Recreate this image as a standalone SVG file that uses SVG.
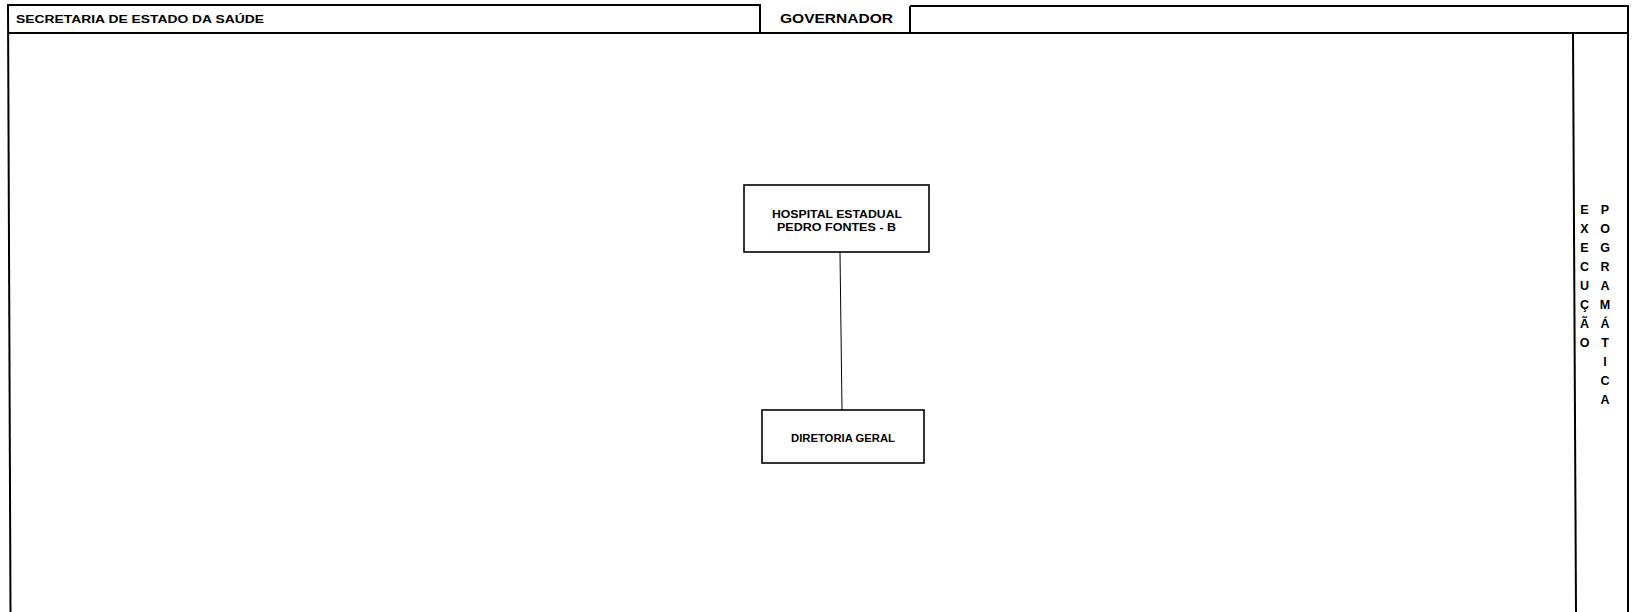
<svg xmlns="http://www.w3.org/2000/svg" width="1639" height="612" viewBox="0 0 1639 612">
<style>
.frame{stroke:#000;stroke-width:2;fill:none}
.box{stroke:#000;stroke-width:1.6;fill:#fff}
.conn{stroke:#000;stroke-width:1;fill:none}
text{font-family:"Liberation Sans",Arial,sans-serif;font-weight:bold;fill:#000}
.vt{font-size:12.5px;text-anchor:middle}
</style>
<rect width="1639" height="612" fill="#fff"/>
<g id="frame">
<line class="frame" x1="8" y1="5" x2="761" y2="5"/>
<line class="frame" x1="910" y1="6" x2="1629" y2="6"/>
<line class="frame" x1="8" y1="4" x2="10.5" y2="612" stroke-width="2.5"/>
<line class="frame" x1="760" y1="5" x2="760" y2="33"/>
<line class="frame" x1="910" y1="6" x2="910" y2="33"/>
<line class="frame" x1="8" y1="33" x2="1628" y2="33"/>
<line class="frame" x1="1573" y1="33" x2="1576" y2="612"/>
<line class="frame" x1="1628" y1="5" x2="1628" y2="612"/>
</g>
<g id="header-secretaria"><text x="16" y="22.5" font-size="11" textLength="248" lengthAdjust="spacingAndGlyphs">SECRETARIA DE ESTADO DA SAÚDE</text></g>
<g id="header-governador"><text x="780" y="22.5" font-size="12.5" textLength="113" lengthAdjust="spacingAndGlyphs">GOVERNADOR</text></g>
<g id="connectors">
<line class="conn" x1="840" y1="252" x2="842" y2="410"/>
</g>
<g id="node-hospital">
<rect class="box" x="744" y="185" width="185" height="67"/>
<text x="772" y="217.5" font-size="10" textLength="130" lengthAdjust="spacingAndGlyphs">HOSPITAL  ESTADUAL</text>
<text x="777" y="230.5" font-size="10" textLength="119" lengthAdjust="spacingAndGlyphs">PEDRO  FONTES  - B</text>
</g>
<g id="node-diretoria">
<rect class="box" x="762" y="410" width="162" height="53"/>
<text x="791" y="442" font-size="10" textLength="104" lengthAdjust="spacingAndGlyphs">DIRETORIA  GERAL</text>
</g>
<g id="side-label">
<text class="vt" x="1584.5" y="213.5">E</text>
<text class="vt" x="1584.5" y="232.5">X</text>
<text class="vt" x="1584.5" y="251.5">E</text>
<text class="vt" x="1584.5" y="270.5">C</text>
<text class="vt" x="1584.5" y="289.5">U</text>
<text class="vt" x="1584.5" y="308.5">Ç</text>
<text class="vt" x="1584.5" y="327.5">Ã</text>
<text class="vt" x="1584.5" y="346.5">O</text>
<text class="vt" x="1605" y="213.5">P</text>
<text class="vt" x="1605" y="232.5">O</text>
<text class="vt" x="1605" y="251.5">G</text>
<text class="vt" x="1605" y="270.5">R</text>
<text class="vt" x="1605" y="289.5">A</text>
<text class="vt" x="1605" y="308.5">M</text>
<text class="vt" x="1605" y="327.5">Á</text>
<text class="vt" x="1605" y="346.5">T</text>
<text class="vt" x="1605" y="365.5">I</text>
<text class="vt" x="1605" y="384.5">C</text>
<text class="vt" x="1605" y="403.5">A</text>
</g>
</svg>
